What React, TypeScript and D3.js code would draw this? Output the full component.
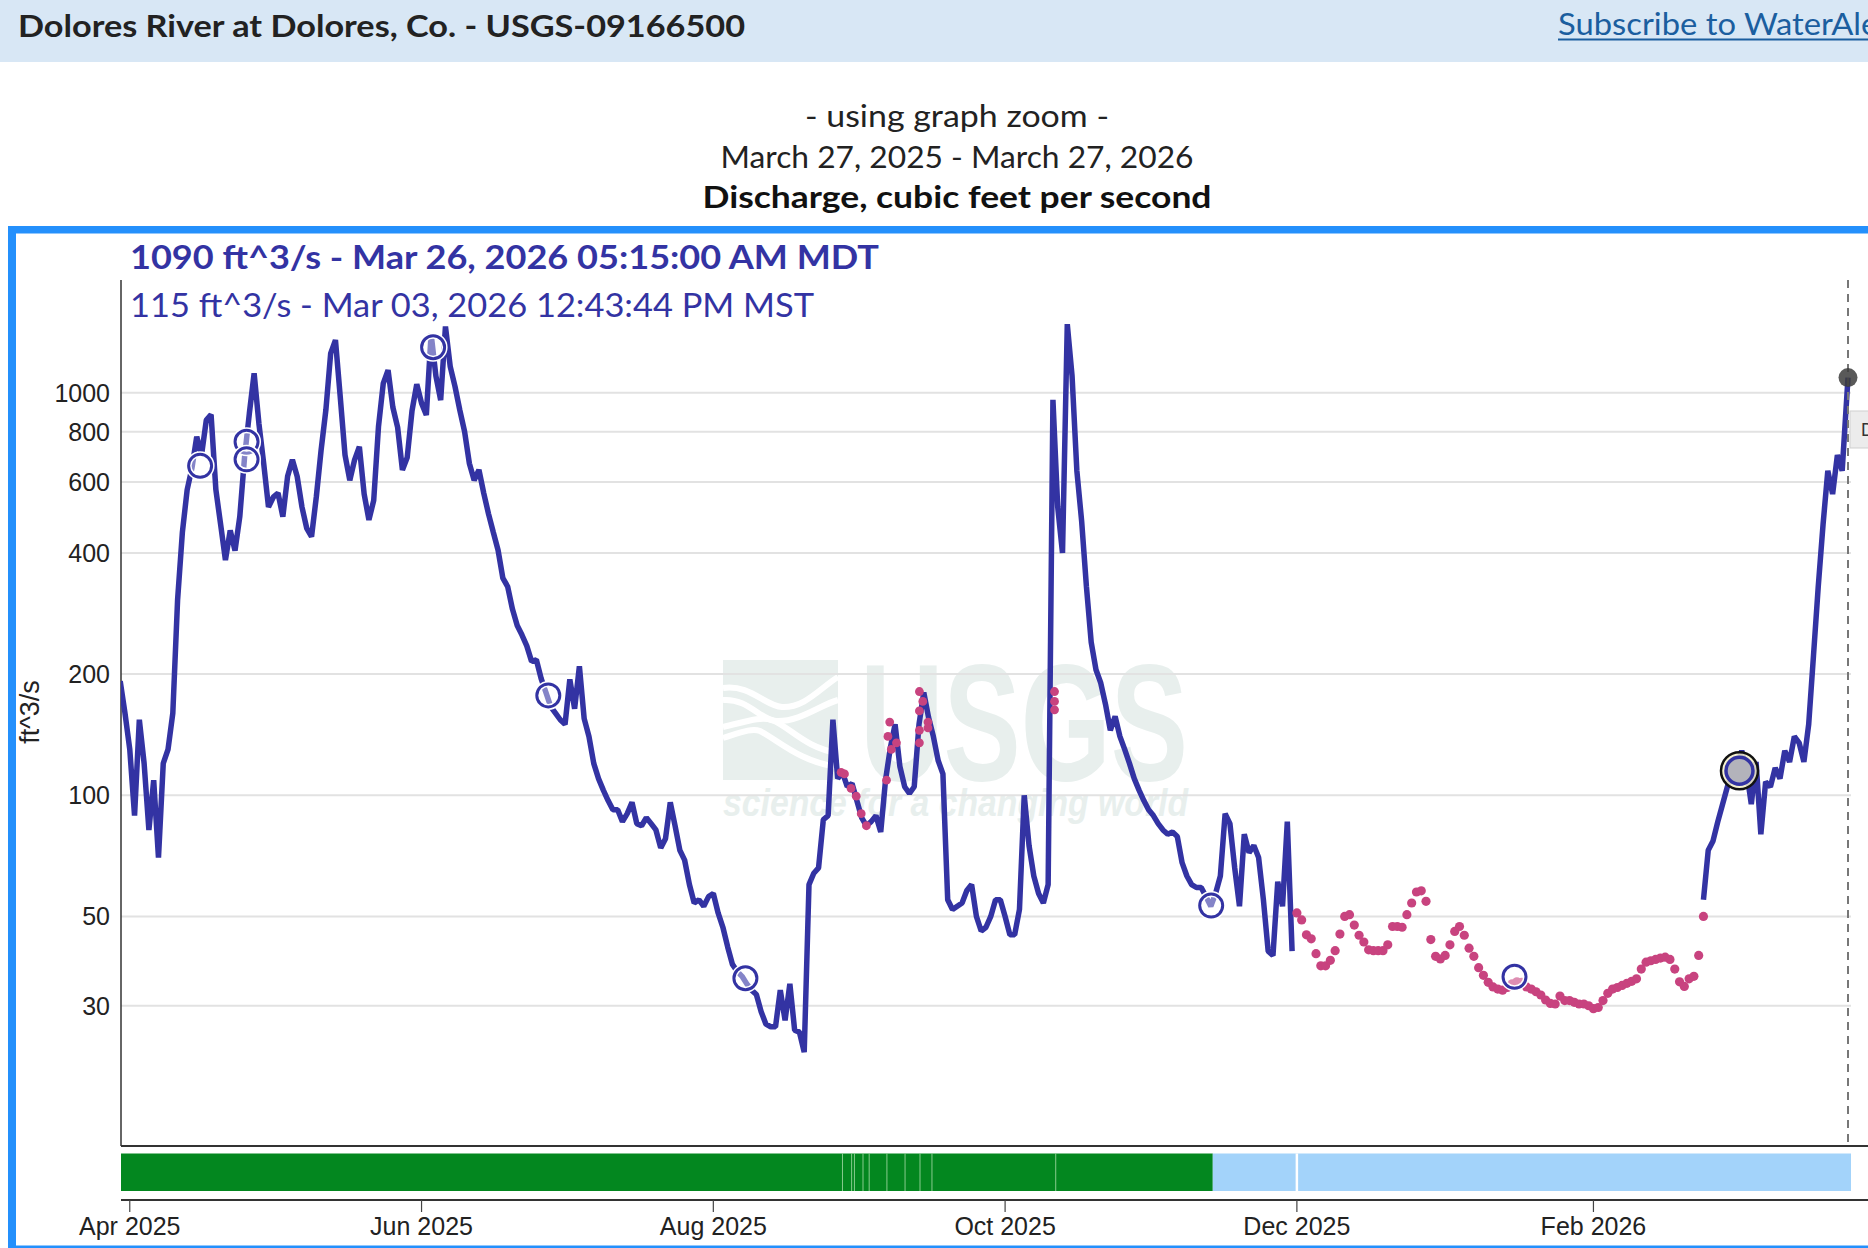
import React from "react";
import * as d3 from "d3";

// ---------------- DATA ----------------
// Discharge (ft^3/s), one value per day, approved / provisional record (blue line)
const flowMar2025 = [192, 160];
const flowApr2025 = [130, 89, 154, 120, 82, 109, 70, 120, 130, 160, 306, 450, 574, 650, 778, 700, 855, 882, 574, 470, 384, 455, 405, 492, 692, 888, 1117, 838, 667, 520];
const flowMay2025 = [550, 563, 492, 620, 681, 619, 520, 460, 439, 551, 720, 906, 1252, 1351, 977, 700, 606, 681, 734, 560, 483, 540, 824, 1055, 1138, 920, 820, 643, 690, 900, 1050];
const flowJun2025 = [942, 880, 1400, 1100, 958, 1460, 1160, 1035, 905, 800, 667, 606, 643, 563, 500, 450, 406, 346, 330, 290, 264, 250, 235, 215, 217, 195, 180, 166, 160, 154];
const flowJul2025 = [150, 194, 164, 209, 155, 140, 120, 110, 103, 97, 92, 92, 86, 90, 96, 85, 84, 88, 85, 82, 74, 78, 96, 84, 73, 69, 60, 54, 55, 53, 56];
const flowAug2025 = [57, 51, 47, 42, 38, 36.5, 35.5, 34, 32.8, 32, 29, 27, 26.6, 26.6, 32.8, 27.6, 34, 26.1, 25.8, 23, 60, 64, 66, 87, 89, 154, 110, 114, 105, 107, 97];
const flowSep2025 = [88, 84, 86, 89, 81, 109, 131, 150, 118, 105, 101, 105, 150, 180, 156, 140, 122, 113, 55, 52, 53, 54, 58, 60, 50, 46, 47, 50, 55, 55];
const flowOct2025 = [50, 45, 45, 52, 100, 75, 63, 57, 54, 60, 960, 520, 400, 1480, 1100, 640, 480, 330, 240, 205, 190, 168, 145, 157, 140, 130, 120, 110, 103, 97, 92];
const flowNov2025 = [89, 85, 82, 80, 81, 79, 68, 63, 60, 59, 59, 56, 53, 57, 63, 90, 85, 66, 53, 80, 72, 75, 70, 55, 41, 40, 61, 53, 86, 41];
const flowFeb2026 = [55, 73, 77, 86, 95];
const flowMar2026 = [105, 115, 118, 129, 115, 95, 121, 80, 108, 105, 117, 110, 129, 121, 140, 135, 121, 150, 222, 330, 470, 640, 560, 700, 640];
const latestTime = "2026-03-26T05:15";
const latestValue = 1090;

// Estimated / ice-affected daily values (pink dots)
const iceDec2025 = [51, 49, 45, 44, 40.4, 37.7, 37.7, 38.9, 41.1, 45.2, 50, 50.5, 47.6, 44.9, 43.2, 41.3, 41.1, 41.1, 41.1, 42.5, 47.2, 47.2, 47, 50.5, 54, 57.5, 57.9, 54.5, 43.8, 39.8, 39.2];
const iceJan2026 = [40, 42.5, 45.9, 47.2, 44.9, 41.7, 39.8, 37.3, 35.7, 34.3, 33.4, 33, 32.8, 33.3, 34, 34.4, 34.3, 33.4, 33, 32.5, 31.9, 31, 30.4, 30.3, 31.7, 30.9, 30.9, 30.6, 30.3, 30.3, 30];
const iceFeb2026 = [29.5, 29.7, 30.9, 32.2, 33, 33.3, 33.7, 34.1, 34.5, 35, 37, 38.5, 38.8, 39.1, 39.4, 39.6, 39.1, 37, 34.4, 33.5, 35, 35.5, 40, 50];

// Individual estimated points (Aug-Oct)
const estTimes = ["2025-08-27T17:00", "2025-08-28T10:00", "2025-08-29T19:00", "2025-08-30T21:00", "2025-08-31T22:00", "2025-09-02T00:00", "2025-09-06T05:00", "2025-09-06T12:00", "2025-09-06T21:00", "2025-09-07T05:00", "2025-09-08T07:00", "2025-09-13T02:00", "2025-09-13T02:00", "2025-09-13T02:00", "2025-09-13T02:00", "2025-09-13T19:00", "2025-09-14T21:00", "2025-09-14T21:00", "2025-10-11T08:00", "2025-10-11T08:00", "2025-10-11T08:00"];
const estValues = [114, 113, 104, 99.5, 90, 84, 109, 140, 152, 130, 135, 181, 162, 145, 135, 171, 152, 147, 181, 171, 163];

// Field measurements (circles)
const measTimes = ["2025-04-15T17:00", "2025-04-25T10:00", "2025-04-25T10:00", "2025-06-03T10:00", "2025-06-27T12:00", "2025-08-07T17:00", "2025-11-13T02:00", "2026-01-15T12:00"];
const measValues = [658, 755, 683, 1297, 177, 35.1, 53.2, 35.4];
const highlightTime = "2026-03-03T12:43";
const highlightValue = 115;

// Data-approval bar
const approvedEnd = "2025-11-13T10:00";
const bandSeparator = "2025-12-01";
const qualityBreaks = ["2025-08-28T00:00", "2025-08-29T22:00", "2025-08-30T12:00", "2025-09-01T07:00", "2025-09-02T14:00", "2025-09-06T07:00", "2025-09-10T02:00", "2025-09-13T05:00", "2025-09-15T17:00", "2025-10-11T14:00"];

// Axes
const xStart = "2025-03-30T04:00";
const xEnd = "2026-03-26T05:15";
const yDomain = [13.45, 1905];
const yTicks = [30, 50, 100, 200, 400, 600, 800, 1000];
const xTickDates = ["2025-04-01", "2025-06-01", "2025-08-01", "2025-10-01", "2025-12-01", "2026-02-01"];

// Text
const siteTitle = "Dolores River at Dolores, Co. - USGS-09166500";
const subscribeText = "Subscribe to WaterAlert";
const subtitleLines = ["- using graph zoom -", "March 27, 2025 - March 27, 2026", "Discharge, cubic feet per second"];
const latestLabel = "1090 ft^3/s - Mar 26, 2026 05:15:00 AM MDT";
const hoverLabel = "115 ft^3/s - Mar 03, 2026 12:43:44 PM MST";
const yLabel = "ft^3/s";

// ---------------- HELPERS ----------------
type Pt = { date: Date; value: number };
const parseTime = (s: string) => new Date(s.length === 10 ? s + "T00:00:00" : s + ":00");
const daily = (start: string, values: number[]): Pt[] => {
  const t0 = parseTime(start);
  return values.map((v, i) => ({ date: d3.timeDay.offset(t0, i), value: v }));
};

const LINE = "#3333a3";
const PINK = "#c8437f";
const HEAD_FONT = "Lato, 'Open Sans', sans-serif";
const AXIS_FONT = "'Liberation Sans', Arial, Helvetica, sans-serif";

export default function App() {
  const left = 121, right = 1848, top = 280, bottom = 1146;
  const x = d3.scaleTime().domain([parseTime(xStart), parseTime(xEnd)]).range([left, right]);
  const y = d3.scaleLog().domain(yDomain).range([bottom, top]);

  const seg1: Pt[] = [
    ...daily("2025-03-30", flowMar2025),
    ...daily("2025-04-01", flowApr2025),
    ...daily("2025-05-01", flowMay2025),
    ...daily("2025-06-01", flowJun2025),
    ...daily("2025-07-01", flowJul2025),
    ...daily("2025-08-01", flowAug2025),
    ...daily("2025-09-01", flowSep2025),
    ...daily("2025-10-01", flowOct2025),
    ...daily("2025-11-01", flowNov2025),
  ];
  const seg2: Pt[] = [
    ...daily("2026-02-24", flowFeb2026),
    ...daily("2026-03-01", flowMar2026),
    { date: parseTime(latestTime), value: latestValue },
  ];
  const icePts: Pt[] = [
    ...daily("2025-12-01", iceDec2025),
    ...daily("2026-01-01", iceJan2026),
    ...daily("2026-02-01", iceFeb2026),
  ];
  const estPts: Pt[] = estTimes.map((t, i) => ({ date: parseTime(t), value: estValues[i] }));
  const measPts: Pt[] = measTimes.map((t, i) => ({ date: parseTime(t), value: measValues[i] }));

  const line = d3
    .line<Pt>()
    .x((d) => x(d.date))
    .y((d) => y(d.value));

  const fmt = d3.timeFormat("%b %Y");
  const barTop = 1153.5, barBottom = 1191;
  const axis2 = 1200;

  const hx = x(parseTime(highlightTime));
  const hy = y(highlightValue);
  const lx = x(parseTime(latestTime));
  const ly = y(latestValue);

  return (
    <svg
      width={1868}
      height={1248}
      viewBox="0 0 1868 1248"
      style={{ position: "absolute", left: 0, top: 0, display: "block", background: "#fff" }}
    >
      <defs>
        <clipPath id="plotClip">
          <rect x={left} y={top - 40} width={right - left + 6} height={bottom - top + 40} />
        </clipPath>
      </defs>

      {/* header */}
      <rect x={0} y={0} width={1868} height={62} fill="#d8e7f5" />
      <text x={18} y={36.5} fontFamily={HEAD_FONT} fontWeight={700} fontSize={30} fill="#222" textLength={727} lengthAdjust="spacingAndGlyphs">
        {siteTitle}
      </text>
      <text x={1558} y={35} fontFamily={HEAD_FONT} fontSize={30} fill="#1b5e9f" textLength={344} lengthAdjust="spacingAndGlyphs">
        {subscribeText}
      </text>
      <line x1={1558} x2={1868} y1={39.5} y2={39.5} stroke="#1b5e9f" strokeWidth={2} />

      {/* subtitles */}
      <text x={957} y={127} textAnchor="middle" fontFamily={HEAD_FONT} fontSize={30} fill="#222" textLength={304} lengthAdjust="spacingAndGlyphs">
        {subtitleLines[0]}
      </text>
      <text x={957} y={168} textAnchor="middle" fontFamily={HEAD_FONT} fontSize={30} fill="#222" textLength={473} lengthAdjust="spacingAndGlyphs">
        {subtitleLines[1]}
      </text>
      <text x={957} y={208} textAnchor="middle" fontFamily={HEAD_FONT} fontWeight={700} fontSize={30} fill="#111" textLength={509} lengthAdjust="spacingAndGlyphs">
        {subtitleLines[2]}
      </text>

      {/* blue frame */}
      <rect x={8} y={226} width={1860} height={7.5} fill="#2490fc" />
      <rect x={8} y={226} width={8} height={1022} fill="#2490fc" />
      <rect x={8} y={1245.5} width={1860} height={2.5} fill="#2490fc" />

      {/* watermark */}
      <g fill="#e8efed">
        <rect x={723} y={660} width={115} height={120} />
        <g fill="none" stroke="#fff" strokeWidth={6}>
          <path d="M723,688 C750,684 765,706 782,707 C805,708 820,688 838,677" />
          <path d="M723,700 C748,698 760,720 776,721 C800,722 820,705 838,700" />
          <path d="M723,727 C745,722 760,716 772,720 C790,727 805,748 838,753" />
          <path d="M723,738 C742,732 752,728 760,731 C778,740 800,762 838,767" />
        </g>
        <text x={860} y={780} fontFamily={AXIS_FONT} fontWeight={700} fontSize={167} textLength={328} lengthAdjust="spacingAndGlyphs">
          USGS
        </text>
        <text x={723} y={816} fontFamily={AXIS_FONT} fontWeight={700} fontStyle="italic" fontSize={38} textLength={465} lengthAdjust="spacingAndGlyphs">
          science for a changing world
        </text>
      </g>

      {/* gridlines */}
      {yTicks.map((t) => (
        <line key={"g" + t} x1={left} x2={right + 3} y1={y(t)} y2={y(t)} stroke="#e2e2e2" strokeWidth={2} />
      ))}

      {/* y axis */}
      <line x1={left} x2={left} y1={top} y2={bottom} stroke="#333" strokeWidth={1.5} />
      {yTicks.map((t) => (
        <text key={"yl" + t} x={110} y={y(t)} dy="0.36em" textAnchor="end" fontFamily={AXIS_FONT} fontSize={25} fill="#222">
          {t}
        </text>
      ))}
      <text transform="translate(39,712) rotate(-90)" textAnchor="middle" fontFamily={AXIS_FONT} fontSize={27} fill="#222">
        {yLabel}
      </text>

      {/* data */}
      <g clipPath="url(#plotClip)">
        <path d={line(seg1) || ""} fill="none" stroke={LINE} strokeWidth={5.5} strokeLinejoin="bevel" />
        <path d={line(seg2) || ""} fill="none" stroke={LINE} strokeWidth={5.5} strokeLinejoin="bevel" />
        {icePts.map((d, i) => (
          <circle key={"ice" + i} cx={x(d.date)} cy={y(d.value)} r={4.6} fill={PINK} />
        ))}
        {estPts.map((d, i) => (
          <circle key={"est" + i} cx={x(d.date)} cy={y(d.value)} r={4.4} fill={PINK} />
        ))}
        {measPts.map((d, i) => (
          <g key={"m" + i}>
            <circle cx={x(d.date)} cy={y(d.value)} r={11.5} fill="rgba(255,255,255,0.4)" stroke="#fff" strokeWidth={6} />
            <circle cx={x(d.date)} cy={y(d.value)} r={11.5} fill="none" stroke={LINE} strokeWidth={3} />
          </g>
        ))}
      </g>

      {/* hover line & latest point */}
      <line x1={right} x2={right} y1={top} y2={bottom} stroke="#777" strokeWidth={2} strokeDasharray="8,6" />
      <circle cx={lx} cy={ly} r={9.5} fill="rgba(60,60,60,0.85)" />
      <circle cx={hx} cy={hy} r={18.5} fill="rgba(245,240,200,0.85)" stroke="#111" strokeWidth={2.5} />
      <circle cx={hx} cy={hy} r={13.5} fill="#b3b3bb" stroke={LINE} strokeWidth={3.5} />

      {/* value labels */}
      <text x={130} y={269} fontFamily={HEAD_FONT} fontWeight={700} fontSize={32} fill={LINE} textLength={749} lengthAdjust="spacingAndGlyphs">
        {latestLabel}
      </text>
      <text x={130} y={316.5} fontFamily={HEAD_FONT} fontSize={33} fill={LINE} textLength={684} lengthAdjust="spacingAndGlyphs">
        {hoverLabel}
      </text>

      {/* approval bar */}
      <rect x={left} y={barTop} width={x(parseTime(approvedEnd)) - left} height={barBottom - barTop} fill="#03871f" />
      <rect x={x(parseTime(approvedEnd))} y={barTop} width={right + 3 - x(parseTime(approvedEnd))} height={barBottom - barTop} fill="#a3d3fa" />
      {qualityBreaks.map((t, i) => (
        <line key={"qb" + i} x1={x(parseTime(t))} x2={x(parseTime(t))} y1={barTop} y2={barBottom} stroke="rgba(170,220,170,0.8)" strokeWidth={1} />
      ))}
      <line x1={x(parseTime(bandSeparator))} x2={x(parseTime(bandSeparator))} y1={barTop} y2={barBottom} stroke="#fff" strokeWidth={2.5} />

      {/* x axes */}
      <line x1={left} x2={1868} y1={bottom} y2={bottom} stroke="#333" strokeWidth={2} />
      <line x1={left} x2={1868} y1={axis2} y2={axis2} stroke="#333" strokeWidth={2} />
      {xTickDates.map((t) => {
        const xx = x(parseTime(t));
        return (
          <g key={"xt" + t}>
            <line x1={xx} x2={xx} y1={axis2} y2={axis2 + 12} stroke="#444" strokeWidth={1.2} />
            <text x={xx} y={1235} textAnchor="middle" fontFamily={AXIS_FONT} fontSize={25} fill="#222">
              {fmt(parseTime(t))}
            </text>
          </g>
        );
      })}

      {/* tooltip stub at right edge */}
      <rect x={1850} y={411} width={40} height={37} fill="#ececec" stroke="#cfcfcf" strokeWidth={1} />
      <text x={1861} y={436} fontFamily={AXIS_FONT} fontSize={18} fill="#333">
        Discharge
      </text>
    </svg>
  );
}
